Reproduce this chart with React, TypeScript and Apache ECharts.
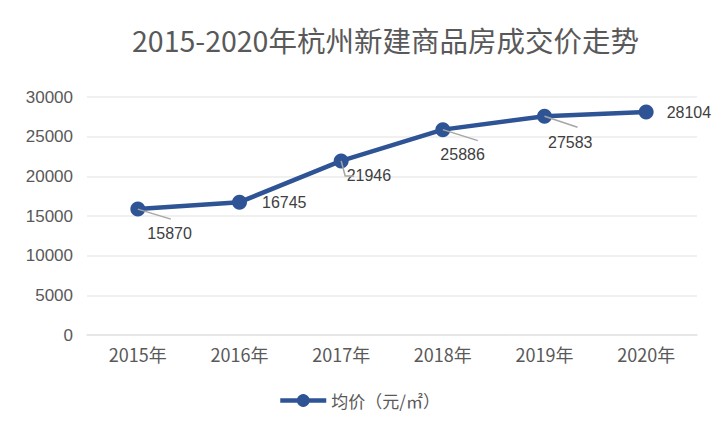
import React, { useEffect, useRef } from "react";
import * as echarts from "echarts";

const title = "2015-2020年杭州新建商品房成交价走势";
const categories = ["2015年", "2016年", "2017年", "2018年", "2019年", "2020年"];
const seriesName = "均价（元/㎡）";
const values = [15870, 16745, 21946, 25886, 27583, 28104];
const labelOffsets = [
  [-3, 24],
  [10, 0],
  [-7, 15],
  [-15, 25],
  [-9, 26],
  [8, 0],
];
// leader line shapes in pixels relative to the marker centre (null = no leader)
const leaderShapes: (number[][] | null)[] = [
  [[0, 0], [33, 10]],
  null,
  [[0, 0], [4, 15], [13, 15]],
  [[0, 0], [35, 11]],
  [[0, 0], [33, 11]],
  null,
];

export default function App() {
  const ref = useRef<HTMLDivElement>(null);
  useEffect(() => {
    if (!ref.current) return;
    const chart = echarts.init(ref.current, null, { renderer: "svg" });
    const font = "'Noto Sans CJK SC', 'Liberation Sans', sans-serif";
    chart.setOption({
      animation: false,
      backgroundColor: "#ffffff",
      title: {
        text: title,
        left: 126,
        top: 19,
        textStyle: { fontSize: 28.5, fontWeight: "normal", color: "#595959", fontFamily: font },
      },
      legend: {
        bottom: 19,
        left: 272,
        itemWidth: 46,
        itemHeight: 16,
        itemGap: 4,
        lineStyle: { width: 4.5 },
        textStyle: { fontSize: 17, color: "#595959", fontFamily: font },
        data: [seriesName],
      },
      grid: { left: 86, right: 25, top: 96, bottom: 98 },
      xAxis: {
        type: "category",
        data: categories,
        axisLine: { lineStyle: { color: "#E3E3E3", width: 1.5 } },
        axisTick: { show: false },
        axisLabel: { fontSize: 18, color: "#595959", fontFamily: font, margin: 10 },
      },
      yAxis: {
        type: "value",
        min: 0,
        max: 30000,
        interval: 5000,
        axisLine: { show: false },
        axisTick: { show: false },
        axisLabel: {
          fontSize: 17,
          color: "#595959",
          fontFamily: "'Liberation Sans', Arial, sans-serif",
          margin: 14,
          formatter: (v: number) => String(v),
        },
        splitLine: { lineStyle: { color: "#EBEBEB", width: 1.5 } },
      },
      series: [
        {
          name: seriesName,
          type: "line",
          data: values,
          symbol: "circle",
          symbolSize: 15,
          itemStyle: { color: "#2F5496" },
          lineStyle: { color: "#2F5496", width: 4.5 },
          label: {
            show: true,
            position: "right",
            distance: 5,
            fontSize: 16,
            color: "#404040",
            fontFamily: "'Liberation Sans', Arial, sans-serif",
          },
          labelLayout: (params: any) => {
            const o = labelOffsets[params.dataIndex] || [0, 0];
            return { dx: o[0], dy: o[1] };
          },
        },
        {
          name: "leaders",
          type: "custom",
          silent: true,
          z: 5,
          data: values.map((v, i) => [i, v]),
          renderItem: (params: any, api: any) => {
            const shape = leaderShapes[params.dataIndex];
            if (!shape) return null;
            const c = api.coord([api.value(0), api.value(1)]);
            return {
              type: "polyline",
              shape: { points: shape.map((p) => [c[0] + p[0], c[1] + p[1]]) },
              style: { stroke: "#A6A6A6", lineWidth: 1.5, fill: "none" },
            };
          },
        },
      ],
    });
    return () => chart.dispose();
  }, []);
  return (
    <div
      ref={ref}
      style={{ width: 721, height: 432, border: "1px solid #D9D9D9", margin: -8 }}
    />
  );
}
